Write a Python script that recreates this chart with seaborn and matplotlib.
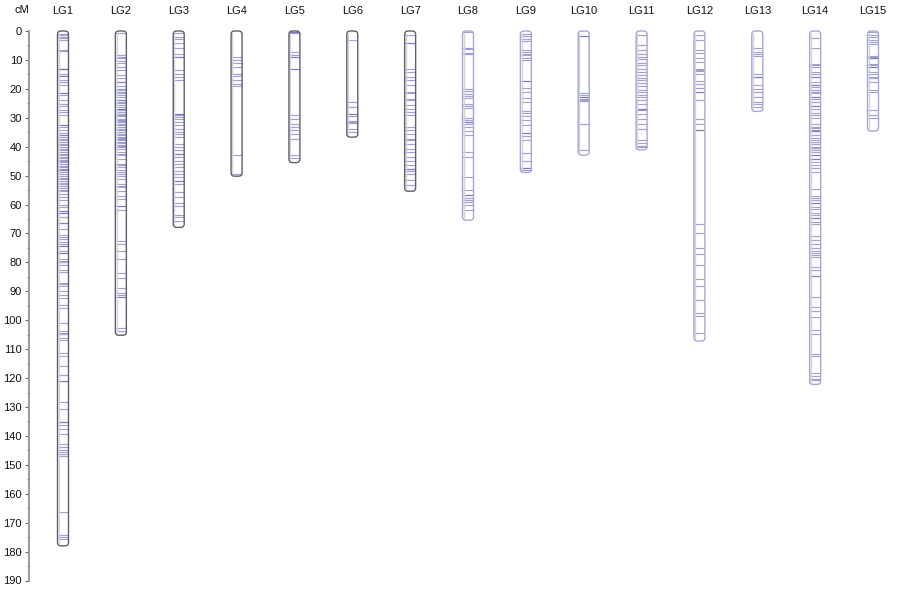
import matplotlib
matplotlib.use("Agg")
import matplotlib.pyplot as plt
from matplotlib.patches import FancyBboxPatch
from matplotlib.ticker import MultipleLocator
import pandas as pd
import seaborn as sns

# linkage groups and their total length (cM)
groups = ["LG1", "LG2", "LG3", "LG4", "LG5", "LG6", "LG7", "LG8",
          "LG9", "LG10", "LG11", "LG12", "LG13", "LG14", "LG15"]
lengths = [178.0, 105.2, 67.9, 50.2, 45.5, 36.7, 55.4, 65.4,
           48.9, 42.9, 41.1, 107.2, 27.8, 122.2, 34.6]

# marker positions (cM)
lg1 = [1, 1.5, 2, 2.5, 3, 6.4, 6.9, 13, 13.3, 13.3, 14.9, 15.4, 15.4, 17, 17.6, 18.8,
       21.6, 21.6, 22, 24, 25.1, 26, 27.2, 28, 29.2, 32.6, 32.6, 33.2, 34.2, 35.3, 36.1,
       36.1, 36.7, 37.3, 37.8, 38.5, 39, 39.5, 40, 40.7, 41.3, 41.9, 42.7, 43, 43.6, 44,
       44.6, 45, 45.4, 45.9, 46.8, 47, 47.7, 48.2, 48.2, 48.8, 49.4, 50.2, 50.8, 51.2,
       51.8, 52.7, 53, 53.5, 54.3, 55, 55.4, 56.4, 57.5, 58.4, 60, 61, 62.3, 62.3, 62.9,
       62.9, 64.4, 66.3, 66.3, 68.6, 70.4, 71.2, 72, 72.8, 73.8, 74.4, 74.4, 75.9, 76.7,
       76.7, 79, 79.5, 80, 81, 82.5, 83.3, 87.1, 87.6, 88.3, 90, 91.4, 92.3, 94.8, 95.8,
       100.9, 103.8, 104.3, 104.8, 106.1, 107, 111.3, 112.5, 115.9, 118.8, 121.1, 121.1,
       128.3, 130.6, 135.2, 135.2, 136.1, 137.5, 139.2, 142.7, 143.8, 144.8, 145.6, 146.4,
       147, 166.3, 174.4, 175, 175.8]
lg2 = [0.8, 8.3, 8.9, 9.5, 10.3, 11.2, 12.4, 13.5, 15.3, 16.4, 17.6, 17.6, 19.1, 19.9,
       20.5, 21.1, 21.6, 22.2, 22.8, 23.7, 24, 24.5, 25, 25.6, 26.2, 26.8, 27, 27.4, 28,
       28.6, 29, 29.5, 30.3, 30.8, 31.1, 31.4, 32, 32.5, 33.2, 33.8, 34.4, 35, 35.5, 36.1,
       36.6, 36.9, 37.2, 37.7, 38.3, 38.8, 39.4, 39.9, 40.2, 40.7, 41.9, 42.5, 43, 44.2,
       45.9, 46.5, 47.1, 48, 48.8, 49.5, 50, 51.2, 52.9, 53.6, 54, 55.2, 56.9, 58.1, 60.6,
       60.6, 62, 72.7, 73.8, 75.9, 79, 83.6, 85.4, 88.8, 90.6, 91.2, 92, 92, 102.7, 103.8]
lg3 = [0.8, 2, 2.9, 4.3, 6, 7.8, 9.1, 9.1, 13.5, 14.7, 15.9, 17, 28.6, 28.6, 29.2, 29.7,
       30.3, 31.5, 32.6, 33.8, 35, 35.5, 36.7, 39, 40.2, 41.3, 42.5, 42.5, 43.6, 44.8, 46,
       47, 48.3, 49.4, 50.6, 51.7, 51.7, 52.9, 55.8, 57.5, 59.4, 60.6, 63.5, 64.4, 65.8]
lg4 = [8.9, 10, 11.2, 12.4, 14.7, 15.6, 17, 18.2, 19.1, 42.8, 49.4]
lg5 = [0.3, 0.5, 0.8, 7.2, 8.3, 8.9, 8.9, 13, 13, 29.2, 30.3, 32, 33.2, 34.4, 35.5,
       37.3, 43, 43.9]
lg6 = [3.1, 24.5, 26.3, 28.6, 28.6, 29.5, 31, 31.4, 31.8, 33.8, 35]
lg7 = [1.4, 4.3, 4.3, 13, 14.1, 15.9, 17, 18.8, 21.1, 21.6, 23.4, 24, 25.7, 26.9, 28,
       29.2, 33.2, 34.4, 35.5, 37.3, 37.8, 39, 40.7, 41.9, 43.6, 44.8, 46.5, 47.7, 47.7,
       48.3, 49.4, 51.5, 53.2]
lg8 = [0.2, 5.8, 6.2, 7.7, 8.1, 20.2, 20.7, 21.9, 22.4, 23.3, 25.4, 25.8, 26.5, 30, 30.8,
       31.4, 31.4, 32.3, 33.1, 34.6, 36, 42, 43.7, 50.4, 55, 56.8, 56.8, 57.7, 58.5, 59.1,
       60.2, 62]
lg9 = [1.2, 1.7, 2.8, 3.5, 6.6, 7.2, 7.8, 8.3, 9.5, 10, 17.3, 17.3, 19.8, 21, 23.3, 24.7,
       27.7, 28.5, 29.3, 30.8, 32.5, 35.2, 35.2, 36.2, 37.7, 42.3, 44.9, 47.3, 47.3, 47.9]
lg10 = [1.6, 1.6, 21.6, 22.2, 22.7, 22.7, 23.5, 23.9, 24.2, 32.3, 41]
lg11 = [1.4, 4.9, 6.4, 7.8, 8.9, 9.8, 11, 11.8, 13, 14.1, 15.3, 16.1, 17, 17.9, 19.1,
        20.3, 21.1, 22, 22.8, 24, 25.1, 26.9, 26.9, 27.4, 28.6, 30.3, 32, 33.8, 37.8,
        38.8, 39.6, 40.2]
lg12 = [1.4, 3.1, 6.4, 7.5, 9.5, 10.6, 13, 13.4, 13.8, 14.9, 17.4, 18.2, 19.6, 21.1,
        21.1, 24, 30.3, 32, 34.4, 34.4, 66.6, 70, 75.2, 77.2, 81, 85.6, 88.2, 92.9, 97.4,
        98.7, 104.4]
lg13 = [6, 7.2, 7.8, 8.7, 14.7, 15.9, 15.9, 18.8, 19.9, 21.1, 22.8, 24.5, 25.1, 26.3]
lg14 = [2.5, 6, 11.5, 11.9, 12.3, 14.1, 15, 16, 16, 17.8, 18.5, 18.5, 19.3, 20.4, 21,
        21.6, 22.7, 22.7, 23.5, 24.5, 25.8, 25.8, 26.8, 28.2, 29.1, 30.2, 32, 33.1, 33.6,
        34.1, 34.6, 34.6, 36, 36.9, 37.7, 38.3, 38.9, 40, 40.6, 41.2, 41.8, 42.9, 42.9,
        44.1, 44.1, 45.2, 46.2, 47.3, 48.7, 54.7, 57.1, 57.9, 58.5, 59.6, 59.6, 61, 61.7,
        62.8, 63.5, 64.5, 64.5, 66, 66.8, 70.8, 72.1, 73.5, 74.9, 76, 76.7, 77.5, 78.3,
        81.6, 82.5, 84.7, 84.7, 92, 95.4, 96.8, 98.9, 103.5, 104.9, 111.6, 112.4, 118.3,
        119.3, 120.2, 120.8]
lg15 = [0.5, 1.4, 2, 3.1, 3.7, 4.6, 8.5, 9.1, 9.5, 9.5, 11.5, 11.9, 12.3, 12.3, 14.1,
        14.7, 15.8, 16.4, 17.5, 20.4, 21, 27.3, 29.1, 30]

marker_lists = [lg1, lg2, lg3, lg4, lg5, lg6, lg7, lg8, lg9, lg10, lg11, lg12, lg13, lg14, lg15]

markers = pd.DataFrame({
    "lg": [g for g, m in zip(groups, marker_lists) for _ in m],
    "pos": [p for m in marker_lists for p in m],
})

sns.set_theme(style="ticks")
plt.rcParams["font.family"] = ["Liberation Sans", "DejaVu Sans"]

fig = plt.figure(figsize=(8.98, 5.89), dpi=100)
ax = fig.add_axes([29 / 898, 1 - 580.5 / 589, 1 - 29 / 898, (580.5 - 31) / 589])

bar_w = 0.19
px_x = 57.86          # pixels per category
px_y = 2.889          # pixels per cM
dark_edge = "#5e5e70"
light_edge = "#a6a6d8"

# chromosome bodies
for i, L in enumerate(lengths):
    body = FancyBboxPatch((i - bar_w / 2, 0), bar_w, L,
                          boxstyle="round,pad=0,rounding_size=0.06",
                          mutation_aspect=px_x / px_y,
                          facecolor="white", edgecolor="none", zorder=1, clip_on=False)
    ax.add_patch(body)

sns.scatterplot(data=markers, x="lg", y="pos", marker="_", s=60, linewidth=0.85,
                color="#6464b4", alpha=0.6, legend=False, ax=ax, zorder=2, clip_on=False)

# light inner strip along the left edge, then the outline
for i, L in enumerate(lengths):
    ax.vlines(i - bar_w / 2 + 0.022, 0.8, L - 0.8, color="#d4d4d8", linewidth=1.0,
              zorder=2.5)
    edge = dark_edge if i < 7 else light_edge
    outline = FancyBboxPatch((i - bar_w / 2, 0), bar_w, L,
                             boxstyle="round,pad=0,rounding_size=0.06",
                             mutation_aspect=px_x / px_y,
                             facecolor="none", edgecolor=edge, linewidth=1.0,
                             zorder=3, clip_on=False)
    ax.add_patch(outline)

ax.set_xlim(-34 / px_x, 14 + 25 / px_x)
ax.set_ylim(190, 0)
ax.yaxis.set_major_locator(MultipleLocator(10))
ax.yaxis.set_minor_locator(MultipleLocator(5))
ax.xaxis.tick_top()
ax.set_xticks(range(len(groups)))
ax.set_xticklabels(groups)
ax.tick_params(axis="x", length=0, pad=11, labelsize=8, colors="#111111")
ax.tick_params(axis="y", which="major", length=3, width=0.8, pad=2,
               labelsize=8, colors="#666666", labelcolor="#111111")
ax.tick_params(axis="y", which="minor", length=1.6, width=0.8, colors="#666666")
ax.set_xlabel("")
ax.set_ylabel("")
for side in ["top", "right", "bottom"]:
    ax.spines[side].set_visible(False)
ax.spines["left"].set_color("#9a9a9a")
ax.spines["left"].set_linewidth(1.4)
ax.set_facecolor("none")

fig.text(22 / 898, 1 - 13.3 / 589, "cM", ha="center", va="baseline",
         fontsize=8, color="#111111")

fig.savefig("out.png", dpi=100, facecolor="white")
